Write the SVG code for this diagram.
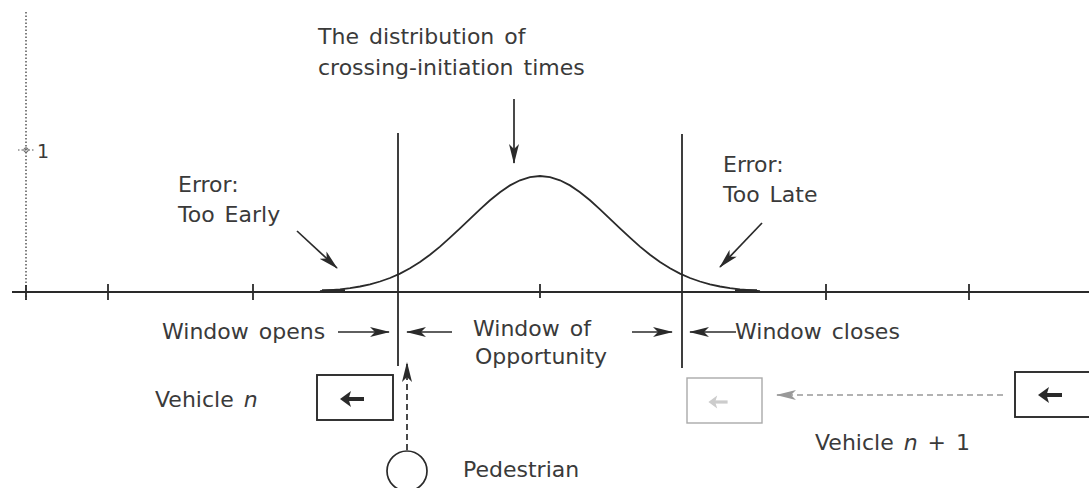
<svg xmlns="http://www.w3.org/2000/svg" width="1089" height="488" viewBox="0 0 1089 488">
<style>
text{font-family:"DejaVu Sans","Liberation Sans",sans-serif;font-size:22px;fill:#3a3a3a;word-spacing:3px}
.ln{stroke:#2a2a2a;stroke-width:1.8;fill:none}
.arr{stroke:#2a2a2a;stroke-width:1.7;fill:none;marker-end:url(#ah)}
.dash{stroke-dasharray:6 4}
.box{fill:none;stroke:#2a2a2a;stroke-width:1.9}
</style>
<defs>
<marker id="ah" viewBox="0 0 20 10" refX="19" refY="5" markerWidth="20" markerHeight="10" markerUnits="userSpaceOnUse" orient="auto">
<path d="M0,0 L20,5 L0,10 L5,5 z" fill="#2a2a2a"/>
</marker>
<marker id="ahg" viewBox="0 0 20 10" refX="19" refY="5" markerWidth="20" markerHeight="10" markerUnits="userSpaceOnUse" orient="auto">
<path d="M0,0 L20,5 L0,10 L5,5 z" fill="#999"/>
</marker>
<g id="carArrow">
<path d="M12,0 H-4" stroke-width="4"/>
<path d="M-12,0 L-1,-8 L-3.5,0 L-1,8 z" stroke="none"/>
</g>
</defs>

<g id="axes">
<line x1="26" y1="12" x2="26" y2="300" stroke="#555" stroke-width="1.5" stroke-dasharray="1.5 2"/>
<line x1="18" y1="150" x2="34" y2="150" stroke="#555" stroke-width="1.2" stroke-dasharray="1.5 2"/>
<circle cx="26" cy="150" r="2.2" fill="none" stroke="#555" stroke-width="1"/>
<text x="37" y="158" style="font-size:19px">1</text>
<line x1="12" y1="292" x2="1089" y2="292" class="ln"/>
<g class="ln">
<line x1="26" y1="285" x2="26" y2="300"/>
<line x1="108" y1="284" x2="108" y2="300"/>
<line x1="253" y1="284" x2="253" y2="300"/>
<line x1="540" y1="284" x2="540" y2="298"/>
<line x1="826" y1="284" x2="826" y2="300"/>
<line x1="969" y1="284" x2="969" y2="300"/>
</g>
</g>

<g id="curve">
<path class="ln" d="M320,291.2 L330,290.1 L340,289.3 L350,288.1 L360,286.5 L370,284.3 L380,281.5 L390,278 L400,273.6 L410,268.2 L420,262 L430,254.7 L440,246.6 L450,237.7 L460,228.4 L470,218.8 L480,209.3 L490,200.3 L500,192.2 L510,185.4 L520,180.3 L530,177.1 L540,176 L550,177.1 L560,180.3 L570,185.4 L580,192.2 L590,200.3 L600,209.3 L610,218.8 L620,228.4 L630,237.7 L640,246.6 L650,254.7 L660,262 L670,268.2 L680,273.6 L690,278 L700,281.5 L710,284.3 L720,286.5 L730,288.1 L740,289.3 L750,290.1 L760,291.2"/>
<path d="M322,290.5 H345 M735,290.5 H757" stroke="#2a2a2a" stroke-width="2.5"/>
</g>

<g id="window-lines">
<line x1="398" y1="133" x2="398" y2="366" class="ln"/>
<line x1="682" y1="134" x2="682" y2="368" class="ln"/>
</g>

<g id="label-distribution">
<text x="318" y="44">The distribution of</text>
<text x="318" y="75">crossing-initiation times</text>
</g>
<g id="label-early">
<text x="178" y="192">Error:</text>
<text x="178" y="222">Too Early</text>
</g>
<g id="label-late">
<text x="723" y="172">Error:</text>
<text x="723" y="202">Too Late</text>
</g>
<g id="label-opens"><text x="162" y="339">Window opens</text></g>
<g id="label-window">
<text x="473" y="336">Window of</text>
<text x="475" y="364">Opportunity</text>
</g>
<g id="label-closes"><text x="735" y="339">Window closes</text></g>

<g id="vehicle-n">
<rect x="317" y="375" width="76" height="45" class="box"/>
<use href="#carArrow" x="352" y="399" stroke="#2a2a2a" fill="#2a2a2a"/>
<text x="155" y="407">Vehicle <tspan font-style="italic">n</tspan></text>
</g>
<g id="vehicle-ghost">
<rect x="687" y="378" width="75" height="45" fill="none" stroke="#aaa" stroke-width="1.4"/>
<use href="#carArrow" x="718" y="402" stroke="#ccc" fill="#ccc" transform="translate(718 402) scale(0.8) translate(-718 -402)"/>
</g>
<g id="vehicle-n1">
<rect x="1015" y="372" width="80" height="45" class="box"/>
<use href="#carArrow" x="1050" y="395" stroke="#2a2a2a" fill="#2a2a2a"/>
<text x="815" y="450">Vehicle <tspan font-style="italic">n</tspan> + 1</text>
</g>
<g id="pedestrian">
<circle cx="407" cy="471" r="20" fill="none" stroke="#2a2a2a" stroke-width="1.7"/>
<text x="463" y="477">Pedestrian</text>
</g>

<g id="connectors">
<line x1="514" y1="99" x2="514" y2="163" class="arr"/>
<line x1="297" y1="231" x2="337" y2="268" class="arr"/>
<line x1="762" y1="223" x2="720" y2="267" class="arr"/>
<line x1="338" y1="332" x2="389" y2="332" class="arr"/>
<line x1="452" y1="332" x2="407" y2="332" class="arr"/>
<line x1="632" y1="332" x2="672" y2="332" class="arr"/>
<line x1="736" y1="332" x2="690" y2="332" class="arr"/>
<line x1="407" y1="450" x2="407" y2="363" class="arr dash"/>
<line x1="1003" y1="395" x2="777" y2="395" stroke="#999" stroke-width="1.4" stroke-dasharray="6 4" marker-end="url(#ahg)"/>
</g>
</svg>
